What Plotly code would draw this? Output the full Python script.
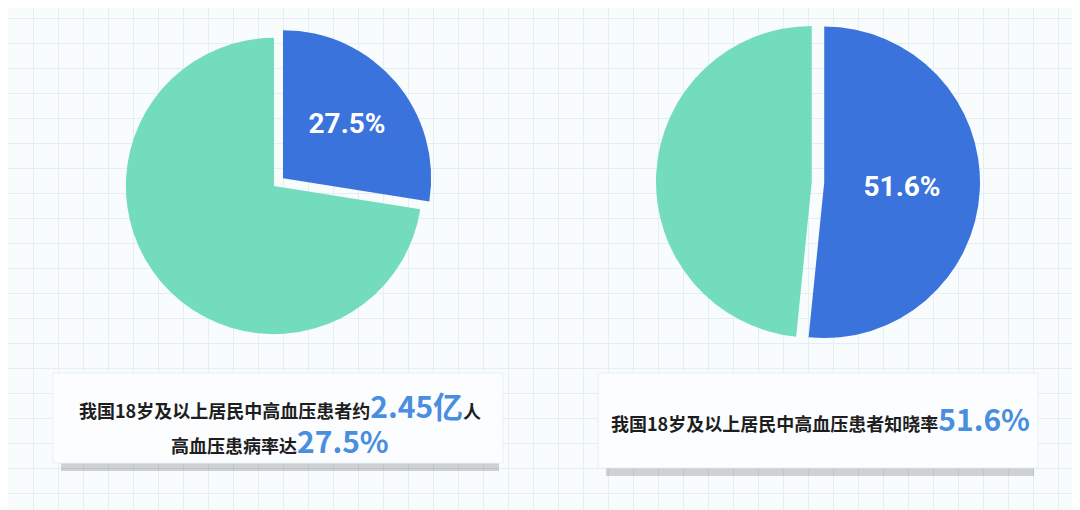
import plotly.graph_objects as go

W, H = 1080, 510

left_labels = ["患病", "未患病"]
left_values = [27.5, 72.5]
right_labels = ["知晓", "不知晓"]
right_values = [51.6, 48.4]

left_caption_1 = ("我国18岁及以上居民中高血压患者约", "2.45亿", "人")
left_caption_2 = ("高血压患病率达", "27.5%")
right_caption = ("我国18岁及以上居民中高血压患者知晓率", "51.6%")

BLUE = "#3b73dd"
GREEN = "#72dcbd"
NUM = "#4a8ee0"
FONT = "Noto Sans CJK SC"

fig = go.Figure()

# background grid via an invisible cartesian axis
fig.add_trace(go.Scatter(x=[0, W], y=[0, H], mode="markers",
                         marker=dict(opacity=0), hoverinfo="skip", showlegend=False))

fig.add_trace(go.Pie(
    labels=left_labels, values=left_values, sort=False, direction="clockwise",
    pull=[0.08, 0], marker=dict(colors=[BLUE, GREEN], line=dict(width=0)),
    texttemplate=["<b>%{value:.1f}%</b>", ""], textposition="inside",
    insidetextfont=dict(color="white", size=28, family="Roboto"),
    domain=dict(x=[106 / W, 426 / W], y=[172 / H, 492 / H]),
    showlegend=False, hoverinfo="label+value",
))
fig.add_trace(go.Pie(
    labels=right_labels, values=right_values, sort=False, direction="clockwise",
    pull=[0.04, 0.04], marker=dict(colors=[BLUE, GREEN], line=dict(width=0)),
    texttemplate=["<b>%{value:.1f}%</b>", ""], textposition="inside",
    insidetextfont=dict(color="white", size=28, family="Roboto"),
    domain=dict(x=[648 / W, 972 / W], y=[174 / H, 498 / H]),
    showlegend=False, hoverinfo="label+value",
))

shapes = []
for x0, x1, y0, y1 in [(45, 495, 365, 455), (590, 1030, 365, 460)]:
    shapes.append(dict(type="rect", x0=x0 + 8, x1=x1 - 4, y0=H - y1 - 8, y1=H - y1 + 10,
                       fillcolor="rgba(60,60,60,0.22)", line=dict(width=0), layer="above"))
    shapes.append(dict(type="rect", x0=x0, x1=x1, y0=H - y1, y1=H - y0,
                       fillcolor="#fbfdff", line=dict(color="#e6f1f6", width=1), layer="above"))


def cap(parts):
    out = f"<b>{parts[0]}</b><span style='color:{NUM};font-size:30px'><b>{parts[1]}</b></span>"
    if len(parts) > 2:
        out += f"<b>{parts[2]}</b>"
    return out


annotations = [
    dict(x=272, y=H - 397, text=cap(left_caption_1)),
    dict(x=272, y=H - 432, text=cap(left_caption_2)),
    dict(x=812, y=H - 410, text=cap(right_caption)),
]
for a in annotations:
    a.update(xref="x", yref="y", showarrow=False,
             font=dict(family=FONT, size=18, color="#1e1e1e"))

fig.update_layout(
    width=W, height=H, margin=dict(l=0, r=0, t=0, b=0),
    paper_bgcolor="#f8fcfd", plot_bgcolor="#f8fcfd",
    shapes=shapes, annotations=annotations,
    xaxis=dict(range=[0, W], dtick=25, showgrid=True, gridcolor="#e4eef4",
               zeroline=False, showticklabels=False, fixedrange=True),
    yaxis=dict(range=[0, H], dtick=25, showgrid=True, gridcolor="#e4eef4",
               zeroline=False, showticklabels=False, fixedrange=True),
)

fig.write_html("out.html")
